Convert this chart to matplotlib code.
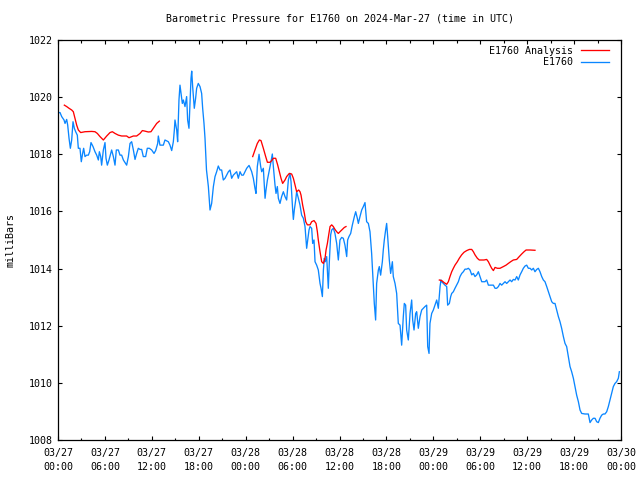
import matplotlib
matplotlib.use("Agg")
import matplotlib.pyplot as plt
import numpy as np
from matplotlib.ticker import FixedLocator, MultipleLocator
from matplotlib.lines import Line2D

# ---------------- data ----------------
# hours since 2024-03-27 00:00 UTC
obs_hours = [0.0, 0.26, 0.47, 0.77, 0.90, 1.11, 1.24, 1.41, 1.58, 1.75, 1.92, 2.09, 2.26, 2.47, 2.60, 2.81, 2.98,
             3.15, 3.28, 3.45, 3.67, 3.88, 4.05, 4.22, 4.48, 4.73, 4.95, 5.16, 5.29, 5.46, 5.58, 5.80, 6.01,
             6.14, 6.31, 6.52, 6.69, 6.86, 7.08, 7.29, 7.46, 7.72, 7.93, 8.14, 8.36, 8.57, 8.78, 9.00, 9.21,
             9.42, 9.64, 9.85, 10.06, 10.27, 10.49, 10.70, 10.91, 11.21, 11.42, 11.68, 11.98, 12.28, 12.49,
             12.75, 12.83, 13.04, 13.26, 13.47, 13.68, 14.11, 14.32, 14.54, 14.75, 14.88, 14.96, 15.18, 15.30,
             15.47, 15.60, 15.73, 15.90, 16.03, 16.24, 16.45, 16.58, 16.75, 16.88, 17.01, 17.10, 17.22, 17.43,
             17.60, 17.73, 17.94, 18.16, 18.37, 18.50, 18.67,
             18.80, 18.99, 19.23, 19.44, 19.65, 19.87, 20.08, 20.29, 20.50, 20.72, 20.93, 21.14, 21.36, 21.57,
             21.79, 22.00, 22.21, 22.42, 22.64, 22.85, 23.06, 23.28, 23.49, 23.70, 23.92, 24.13, 24.43,
             24.55, 24.77, 24.98, 25.19, 25.32, 25.49, 25.71, 25.92, 26.05, 26.26, 26.48, 26.60, 26.78, 27.03,
             27.24, 27.41, 27.54, 27.75, 27.88, 28.05, 28.18, 28.39, 28.60, 28.82, 29.03, 29.24, 29.46, 29.67,
             29.80, 30.01, 30.10, 30.22, 30.40, 30.52, 30.74, 30.95, 31.16, 31.38, 31.59, 31.80, 31.93, 32.10,
             32.23, 32.44, 32.57, 32.74, 32.87, 33.08, 33.29, 33.51, 33.64, 33.81, 33.94, 34.06, 34.19, 34.36,
             34.57, 34.70, 34.87, 35.00, 35.21, 35.42, 35.64, 35.85, 36.06, 36.28, 36.49, 36.70, 36.92, 37.04,
             37.21, 37.43, 37.64, 37.90, 38.07, 38.28, 38.41, 38.62, 38.84, 39.05, 39.26,
             39.47, 39.69, 39.90, 40.11, 40.33, 40.45, 40.62, 40.75, 40.97, 41.09, 41.26, 41.48, 41.60, 41.73,
             41.90, 42.03, 42.16, 42.37, 42.54, 42.76, 42.88, 43.10, 43.31, 43.52, 43.74, 43.95, 44.16, 44.29,
             44.46, 44.59, 44.80, 45.02, 45.23, 45.36, 45.53, 45.74, 45.87, 46.08, 46.30, 46.51, 46.72, 46.93,
             47.15, 47.28, 47.45, 47.57, 47.79, 48.00, 48.21, 48.43, 48.64, 48.86, 48.98,
             49.07, 49.28, 49.49, 49.71, 49.83, 50.05, 50.22, 50.35, 50.56, 50.77, 50.98, 51.20, 51.41, 51.63,
             51.84, 52.05, 52.27, 52.48, 52.69, 52.91, 53.12, 53.33, 53.55, 53.76, 53.97, 54.19, 54.40, 54.61,
             54.82, 55.04, 55.25, 55.46, 55.68, 55.89, 56.10, 56.32, 56.53, 56.74, 56.96, 57.17, 57.38, 57.59,
             57.81, 58.02, 58.23, 58.45, 58.66, 58.87, 59.09, 59.30, 59.51, 59.73, 59.94, 60.15, 60.37, 60.58,
             60.79, 61.00, 61.22, 61.43, 61.64, 61.86, 62.07,
             62.28, 62.50, 62.71, 62.92, 63.14, 63.35, 63.56, 63.77, 63.99, 64.20, 64.41, 64.63, 64.84, 65.05,
             65.27, 65.48, 65.69, 65.91, 66.12, 66.33, 66.55, 66.76, 66.97, 67.40, 67.82, 68.04, 68.25, 68.46,
             68.68, 68.89, 69.10, 69.31, 69.53, 69.74, 69.95, 70.17, 70.38, 70.59, 70.81, 71.02, 71.23, 71.44,
             71.66, 71.79]
obs_mb = [1019.46, 1019.46, 1019.32, 1019.20, 1019.08, 1019.22, 1019.02, 1018.56, 1018.21, 1018.50, 1019.14,
          1018.91, 1018.79, 1018.67, 1018.21, 1018.21, 1017.74, 1018.03, 1018.21, 1017.92, 1017.97, 1017.97,
          1018.09, 1018.41, 1018.27, 1018.09, 1017.97, 1017.80, 1018.09, 1017.92, 1017.62, 1018.15, 1018.41,
          1017.86, 1017.62, 1017.80, 1017.97, 1018.15, 1017.92, 1017.62, 1018.15, 1018.15, 1017.97, 1017.97,
          1017.80, 1017.71, 1017.62, 1017.92, 1018.38, 1018.44, 1018.15, 1017.82, 1018.03, 1018.21, 1018.17,
          1018.17, 1017.92, 1017.92, 1018.21, 1018.21, 1018.15, 1018.03, 1018.13, 1018.38, 1018.64, 1018.32,
          1018.32, 1018.32, 1018.50, 1018.44, 1018.32, 1018.13, 1018.44, 1018.85, 1019.20, 1018.85, 1018.44,
          1019.90, 1020.42, 1020.13, 1019.78, 1019.90, 1019.67, 1020.02, 1019.20, 1018.91, 1019.78, 1020.66,
          1020.91, 1020.37, 1019.61, 1019.96, 1020.31, 1020.48, 1020.37, 1020.13, 1019.61, 1019.08,
          1018.56, 1017.45, 1016.87, 1016.05, 1016.28, 1016.87, 1017.22, 1017.39, 1017.59, 1017.45, 1017.45,
          1017.10, 1017.16, 1017.27, 1017.39, 1017.45, 1017.16, 1017.27, 1017.33, 1017.39, 1017.16, 1017.39,
          1017.27, 1017.27, 1017.39, 1017.51, 1017.61,
          1017.54, 1017.39, 1017.16, 1016.81, 1016.63, 1017.57, 1018.00, 1017.57, 1017.39, 1017.51, 1016.46,
          1016.75, 1017.10, 1017.45, 1017.74, 1018.01, 1017.57, 1016.93, 1016.63, 1016.87, 1016.46, 1016.28,
          1016.52, 1016.69, 1016.52, 1016.40, 1017.10, 1017.33, 1017.04, 1016.05, 1015.72, 1016.05, 1016.40,
          1016.69, 1016.46, 1016.22, 1015.87, 1015.76, 1015.47, 1014.71, 1015.00, 1015.35, 1015.47, 1015.41,
          1014.88, 1015.00, 1014.24, 1014.12, 1013.95, 1013.48, 1013.31, 1013.02, 1013.95, 1014.36, 1014.24,
          1014.42, 1013.31, 1014.24, 1015.18, 1015.35, 1015.41, 1015.23, 1014.88, 1014.30, 1015.00, 1015.09,
          1015.06, 1014.82, 1014.42, 1015.00, 1015.12, 1015.23, 1015.52, 1015.82, 1015.99, 1015.76, 1015.58,
          1015.82, 1016.05, 1016.17, 1016.31,
          1015.64, 1015.58, 1015.29, 1014.53, 1013.37, 1012.78, 1012.20, 1013.48, 1013.95, 1014.07, 1013.77,
          1014.24, 1014.65, 1015.00, 1015.35, 1015.58, 1015.12, 1014.30, 1013.83, 1014.24, 1013.72, 1013.48,
          1013.13, 1012.08, 1012.02, 1011.32, 1012.32, 1012.78, 1012.72, 1011.85, 1011.50, 1012.43, 1012.90,
          1012.20, 1011.85, 1012.43, 1012.49, 1011.91, 1012.32, 1012.55, 1012.61, 1012.67, 1012.72, 1011.27,
          1011.03, 1012.08, 1012.43, 1012.55, 1012.72, 1012.90, 1012.61, 1013.37, 1013.60,
          1013.54, 1013.48, 1013.42, 1013.37, 1012.72, 1012.78, 1013.02, 1013.13, 1013.19, 1013.31, 1013.42,
          1013.54, 1013.72, 1013.83, 1013.89, 1013.98, 1013.98, 1014.01, 1013.95, 1013.78, 1013.83, 1013.72,
          1013.78, 1013.89, 1013.72, 1013.54, 1013.54, 1013.54, 1013.60, 1013.42, 1013.42, 1013.42, 1013.42,
          1013.31, 1013.31, 1013.37, 1013.48, 1013.42, 1013.48, 1013.54, 1013.48, 1013.54, 1013.60, 1013.54,
          1013.62, 1013.60, 1013.72, 1013.60, 1013.78, 1013.89, 1014.01, 1014.09, 1014.12, 1014.01, 1014.01,
          1013.95, 1014.01, 1013.89, 1013.97, 1014.01, 1013.89, 1013.72, 1013.60,
          1013.54, 1013.37, 1013.19, 1013.02, 1012.84, 1012.78, 1012.78, 1012.55, 1012.32, 1012.14, 1011.91,
          1011.62, 1011.38, 1011.27, 1010.92, 1010.57, 1010.39, 1010.16, 1009.87, 1009.57, 1009.34, 1009.05,
          1008.93, 1008.91, 1008.91, 1008.61, 1008.70, 1008.76, 1008.76, 1008.64, 1008.61, 1008.76, 1008.87,
          1008.91, 1008.91, 1008.99, 1009.17, 1009.40, 1009.63, 1009.87, 1009.98, 1010.04, 1010.16, 1010.39]

ana1_hours = [0.81, 1.11, 1.41, 1.75, 1.96, 2.17, 2.39, 2.60, 2.90, 3.45, 4.31, 4.73, 5.03, 5.37, 5.80, 6.23,
              6.65, 6.95, 7.29, 7.72, 8.14, 8.78, 9.08, 9.64, 10.06, 10.49, 10.79, 11.13, 11.55, 11.89, 12.19,
              12.62, 12.96]
ana1_mb = [1019.72, 1019.67, 1019.61, 1019.55, 1019.49, 1019.26, 1019.02, 1018.85, 1018.76, 1018.79, 1018.80,
           1018.79, 1018.73, 1018.62, 1018.50, 1018.64, 1018.76, 1018.79, 1018.73, 1018.67, 1018.64, 1018.64,
           1018.58, 1018.64, 1018.64, 1018.73, 1018.83, 1018.81, 1018.78, 1018.79, 1018.91, 1019.08, 1019.16]

ana2_hours = [24.90, 25.19, 25.49, 25.75, 25.96, 26.26, 26.56, 26.78, 27.12, 27.33, 27.54, 27.84, 28.09, 28.31,
              28.52, 28.73, 29.03, 29.24, 29.58, 29.88, 30.10, 30.31, 30.52, 30.78, 30.95, 31.08, 31.29, 31.51,
              31.68, 31.89, 32.23, 32.44, 32.74, 33.00, 33.17, 33.29, 33.51, 33.72, 33.94, 34.15, 34.28, 34.45,
              34.62, 34.79, 35.00, 35.21, 35.42, 35.64, 35.85, 36.06, 36.36, 36.62, 36.83]
ana2_mb = [1017.92, 1018.15, 1018.38, 1018.50, 1018.48, 1018.21, 1017.92, 1017.72, 1017.72, 1017.78, 1017.86,
           1017.86, 1017.63, 1017.39, 1017.16, 1016.98, 1017.10, 1017.22, 1017.33, 1017.31, 1017.16, 1016.93,
           1016.69, 1016.75, 1016.69, 1016.57, 1016.22, 1015.93, 1015.64, 1015.53, 1015.53, 1015.64, 1015.68,
           1015.58, 1015.29, 1015.00, 1014.59, 1014.24, 1014.18, 1014.36, 1014.65, 1014.88, 1015.18, 1015.47,
           1015.53, 1015.47, 1015.37, 1015.29, 1015.23, 1015.29, 1015.37, 1015.44, 1015.47]

ana3_hours = [48.77, 49.07, 49.37, 49.71, 49.92, 50.13, 50.35, 50.56, 50.77, 51.07, 51.32, 51.62, 51.92, 52.27,
              52.61, 52.91, 53.12, 53.33, 53.63, 53.88, 54.19, 54.48, 54.82, 55.04, 55.25, 55.46, 55.68, 55.89,
              56.19, 56.53, 56.74, 56.96, 57.30, 57.59, 57.89, 58.23, 58.66, 58.99, 59.30, 59.60, 59.86, 60.37,
              61.00]
ana3_mb = [1013.60, 1013.58, 1013.51, 1013.45, 1013.54, 1013.72, 1013.89, 1014.01, 1014.12, 1014.24, 1014.36,
           1014.48, 1014.57, 1014.63, 1014.67, 1014.67, 1014.59, 1014.48, 1014.36, 1014.30, 1014.30, 1014.30,
           1014.32, 1014.24, 1014.12, 1014.01, 1013.93, 1014.04, 1014.01, 1014.01, 1014.04, 1014.07, 1014.12,
           1014.18, 1014.24, 1014.30, 1014.32, 1014.42, 1014.51, 1014.59, 1014.65, 1014.65, 1014.64]

tick_hours = [0, 6, 12, 18, 24, 30, 36, 42, 48, 54, 60, 66, 72]
tick_labels = ["03/27\n00:00", "03/27\n06:00", "03/27\n12:00", "03/27\n18:00",
               "03/28\n00:00", "03/28\n06:00", "03/28\n12:00", "03/28\n18:00",
               "03/29\n00:00", "03/29\n06:00", "03/29\n12:00", "03/29\n18:00",
               "03/30\n00:00"]
y_ticks = [1008, 1010, 1012, 1014, 1016, 1018, 1020, 1022]

title = "Barometric Pressure for E1760 on 2024-Mar-27 (time in UTC)"
label_ana = "E1760 Analysis"
label_obs = "E1760"

# ---------------- style ----------------
FONT = "DejaVu Sans Mono"
FS = 7.2
RED = "#ff0000"
BLUE = "#0a86ff"

plt.rcParams["font.family"] = FONT
plt.rcParams["font.size"] = FS

fig = plt.figure(figsize=(6.4, 4.8), dpi=100)
ax = fig.add_axes([58 / 640, 40 / 480, (621 - 58) / 640, (440 - 40) / 480])

ax.plot(obs_hours, obs_mb, color=BLUE, lw=0.95)
for hh, mm in [(ana1_hours, ana1_mb), (ana2_hours, ana2_mb), (ana3_hours, ana3_mb)]:
    ax.plot(hh, mm, color=RED, lw=0.95)

ax.set_xlim(0, 72)
ax.set_ylim(1008, 1022)
ax.xaxis.set_major_locator(FixedLocator(tick_hours))
ax.set_xticklabels(tick_labels, fontsize=FS, linespacing=1.45)
ax.xaxis.set_minor_locator(MultipleLocator(3))
ax.set_yticks(y_ticks)
ax.set_yticklabels([str(v) for v in y_ticks], fontsize=FS)

ax.tick_params(axis="both", which="major", direction="in", length=3.0, width=0.8,
               top=True, right=True, color="black")
ax.tick_params(axis="x", which="major", pad=6)
ax.tick_params(axis="y", which="major", pad=4)
ax.tick_params(axis="x", which="minor", direction="in", length=1.8, width=0.8, top=True)
for s in ax.spines.values():
    s.set_linewidth(0.9)

ax.set_title(title, fontsize=FS, pad=13.5)
ax.set_ylabel("milliBars", fontsize=FS, labelpad=9)

handles = [Line2D([], [], color=RED, lw=0.95), Line2D([], [], color=BLUE, lw=0.95)]
ax.legend(handles, [label_ana, label_obs], loc="upper right", bbox_to_anchor=(0.979, 0.985),
          frameon=False, markerfirst=False, handlelength=2.8, handletextpad=0.8,
          labelspacing=0.15, borderpad=0, borderaxespad=0, fontsize=FS)

fig.savefig("out.png", dpi=100)
